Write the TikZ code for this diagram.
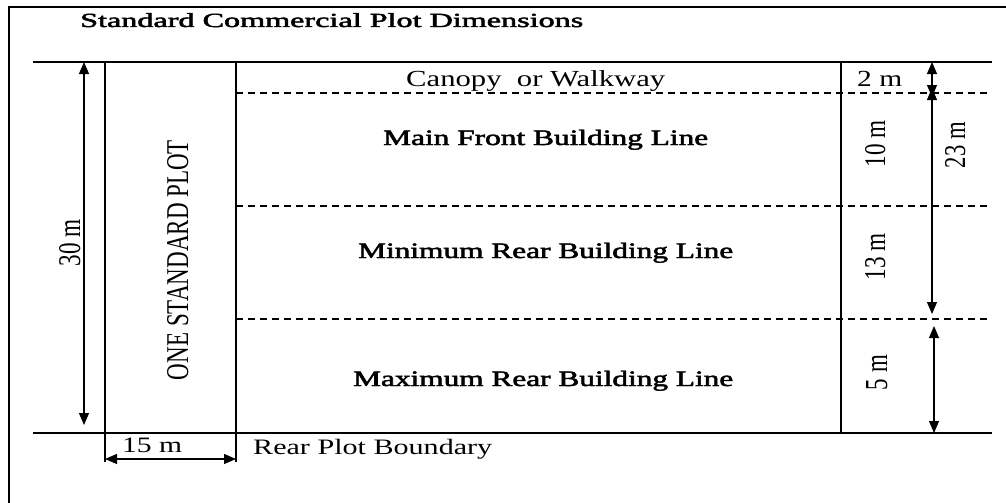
\documentclass[tikz,border=0pt]{standalone}
\usepackage{fontspec}
\setmainfont{Liberation Serif}
\newfontfamily\semib{Liberation Serif}[FakeBold=2]
\usetikzlibrary{arrows.meta}
\begin{document}
\begin{tikzpicture}[x=1pt,y=-1pt,
  frameline/.style={line width=1.8pt},
  solidline/.style={line width=1.8pt},
  dashline/.style={line width=1.2pt, dash pattern=on 7pt off 5pt},
  dashthick/.style={line width=1.7pt, dash pattern=on 7pt off 5pt},
  dim/.style={line width=1.2pt, {Triangle[length=12pt,width=10pt]}-{Triangle[length=12pt,width=10pt]}},
  lbl/.style={inner sep=0pt, anchor=base west},
  vlbl/.style={inner sep=0pt, anchor=base, rotate=90}]
\useasboundingbox (0,0) rectangle (1006,503);
% outer frame (cropped)
\draw[frameline] (9,503) -- (9,7) -- (1006,7);
% plot lines
\draw[solidline] (33,62) -- (992,62);
\draw[solidline] (33,433) -- (992,433);
\draw[solidline] (105,62) -- (105,462);
\draw[solidline] (236,62) -- (236,462);
\draw[solidline] (841,62) -- (841,433);
\draw[dashthick] (236,93) -- (988,93);
\draw[dashline] (236,206) -- (988,206);
\draw[dashline] (236,319) -- (988,319);
% dimension end points
\coordinate (a30t) at (84,62);
\coordinate (a30b) at (84,425);
\coordinate (a15l) at (105,459);
\coordinate (a15r) at (236,459);
\coordinate (a2t) at (932,62);
\coordinate (a2b) at (932,97);
\coordinate (a23t) at (932,88);
\coordinate (a23b) at (932,314);
\coordinate (a5t) at (934,326);
\coordinate (a5b) at (934,433);
\draw[dim] (a30t) -- (a30b);
\draw[dim] (a15l) -- (a15r);
\draw[dim] (a2t) -- (a2b);
\draw[dim] (a23t) -- (a23b);
\draw[dim] (a5t) -- (a5b);
% texts
\node[lbl, font=\semib\fontsize{20}{20}\selectfont] (title) at (80,27) {\resizebox{503pt}{\height}{Standard Commercial Plot Dimensions}};
\node[lbl, font=\fontsize{23}{23}\selectfont] (canopy) at (406,86) {\resizebox{259pt}{\height}{Canopy~ or Walkway}};
\node[lbl, font=\fontsize{23}{23}\selectfont] (two) at (857,86) {\resizebox{45pt}{\height}{2 m}};
\node[lbl, font=\semib\fontsize{22}{22}\selectfont] (mainfront) at (383,145) {\resizebox{325pt}{\height}{Main Front Building Line}};
\node[lbl, font=\semib\fontsize{22}{22}\selectfont] (minrear) at (358,258) {\resizebox{375pt}{\height}{Minimum Rear Building Line}};
\node[lbl, font=\semib\fontsize{22}{22}\selectfont] (maxrear) at (353,386) {\resizebox{380pt}{\height}{Maximum Rear Building Line}};
\node[lbl, font=\fontsize{22}{22}\selectfont] (rearb) at (253,454) {\resizebox{239pt}{\height}{Rear Plot Boundary}};
\node[lbl, font=\fontsize{22}{22}\selectfont] (fifteen) at (122,452) {\resizebox{60pt}{\height}{15 m}};
\node[vlbl] (thirty) at (80,243) {\resizebox{47pt}{21pt}{30 m}};
\node[vlbl] (plot) at (188,260) {\resizebox{240pt}{21pt}{ONE STANDARD PLOT}};
\node[vlbl] (ten) at (885,143.5) {\resizebox{47pt}{20pt}{10 m}};
\node[vlbl] (twentythree) at (965,145) {\resizebox{46pt}{20pt}{23 m}};
\node[vlbl] (thirteen) at (885,256.5) {\resizebox{47pt}{20pt}{13 m}};
\node[vlbl] (five) at (887,372.5) {\resizebox{35pt}{21pt}{5 m}};
\end{tikzpicture}
\end{document}
